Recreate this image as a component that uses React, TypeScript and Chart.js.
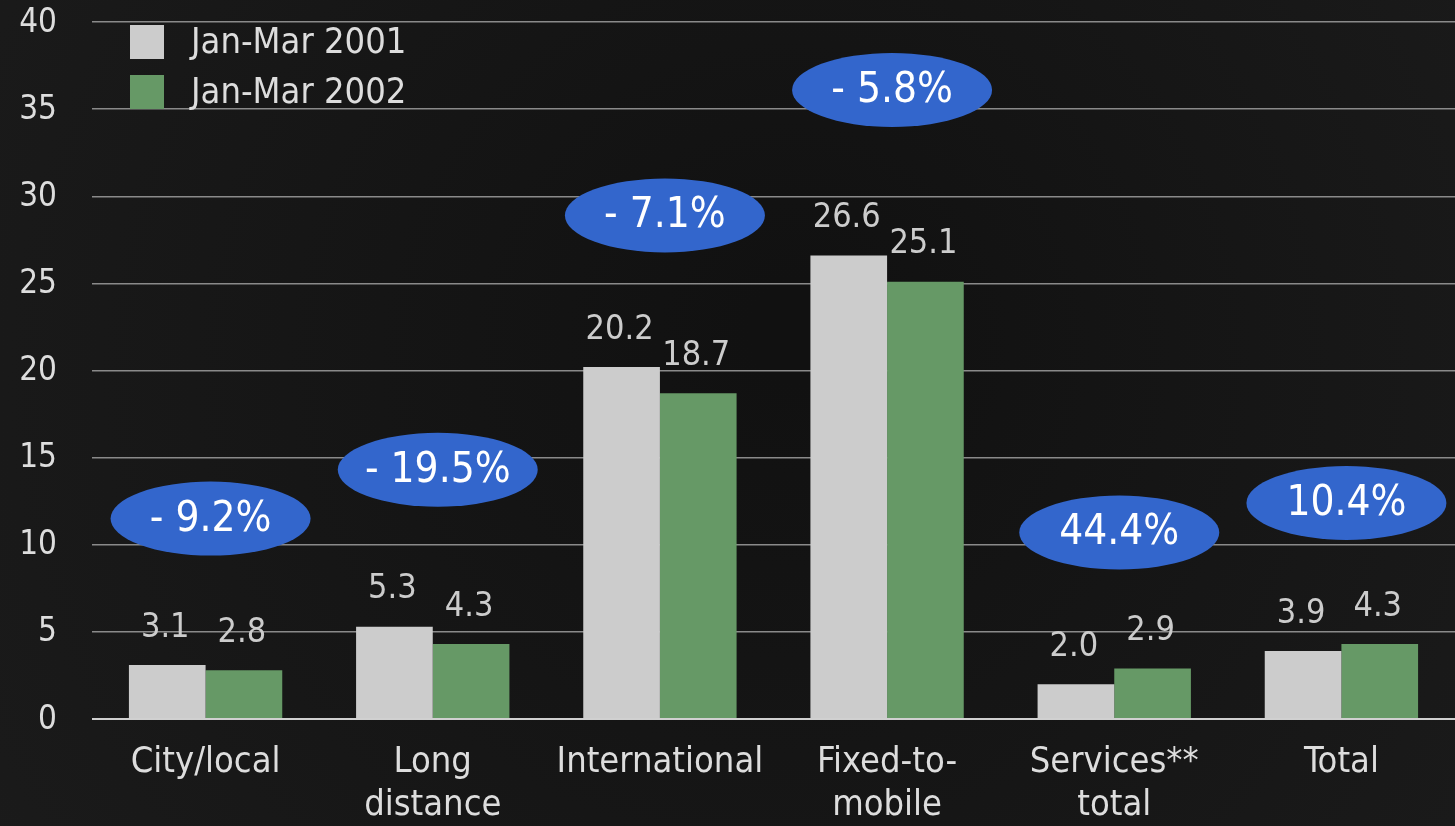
import React, { useEffect, useRef } from "react";
import { Chart, registerables } from "chart.js";

Chart.register(...registerables);

const FONT = "'Liberation Sans Narrow', 'DejaVu Sans Condensed', 'Roboto', sans-serif";

const categories: string[][] = [
  ["City/local"],
  ["Long", "distance"],
  ["International"],
  ["Fixed-to-", "mobile"],
  ["Services**", "total"],
  ["Total"],
];
const seriesNames = ["Jan-Mar 2001", "Jan-Mar 2002"];
const series2001 = [3.1, 5.3, 20.2, 26.6, 2.0, 3.9];
const series2002 = [2.8, 4.3, 18.7, 25.1, 2.9, 4.3];
const changeLabels = ["- 9.2%", "- 19.5%", "- 7.1%", "- 5.8%", "44.4%", "10.4%"];
const changeLevels = [11.5, 14.3, 28.9, 36.1, 10.7, 12.4];
const yMin = 0;
const yMax = 40;
const yStep = 5;

const COLORS = ["#cccccc", "#669966"];

const bgPlugin = {
  id: "bg",
  beforeDraw(chart: any) {
    const { ctx, width, height } = chart;
    ctx.save();
    const g = ctx.createRadialGradient(width * 0.55, height * 0.4, 50, width * 0.5, height * 0.5, width * 0.75);
    g.addColorStop(0, "#111111");
    g.addColorStop(1, "#1d1d1d");
    ctx.fillStyle = g;
    ctx.fillRect(0, 0, width, height);
    ctx.restore();
  },
};

const overlayPlugin = {
  id: "overlay",
  afterDatasetsDraw(chart: any) {
    const { ctx, chartArea } = chart;
    const xScale = chart.scales.x;
    const yScale = chart.scales.y;
    ctx.save();
    // y tick labels
    ctx.font = `33px ${FONT}`;
    ctx.fillStyle = "#dddddd";
    ctx.textAlign = "right";
    ctx.textBaseline = "middle";
    yScale.ticks.forEach((t: any) => {
      ctx.fillText(String(t.value), chartArea.left - 35, yScale.getPixelForValue(t.value) + 1);
    });
    // value labels
    ctx.font = `34px ${FONT}`;
    ctx.fillStyle = "#cccccc";
    ctx.textAlign = "center";
    chart.data.datasets.forEach((ds: any, di: number) => {
      const meta = chart.getDatasetMeta(di);
      meta.data.forEach((el: any, i: number) => {
        ctx.fillText(Number(ds.data[i]).toFixed(1), el.x - 2, el.y - 37);
      });
    });
    // change ellipses
    changeLabels.forEach((lab, i) => {
      const cx = xScale.getPixelForValue(i) + 5;
      const cy = yScale.getPixelForValue(changeLevels[i]);
      ctx.beginPath();
      ctx.ellipse(cx, cy, 100, 37, 0, 0, Math.PI * 2);
      ctx.fillStyle = "#3366cc";
      ctx.fill();
      ctx.fillStyle = "#ffffff";
      ctx.font = `42px ${FONT}`;
      ctx.fillText(lab, cx, cy + 1);
    });
    // legend
    seriesNames.forEach((name, i) => {
      const x = chartArea.left + 38;
      const y = chartArea.top + 3 + i * 50;
      ctx.fillStyle = COLORS[i];
      ctx.fillRect(x, y, 34, 34);
      ctx.fillStyle = "#dddddd";
      ctx.font = `36px ${FONT}`;
      ctx.textAlign = "left";
      ctx.fillText(name, x + 61, y + 19);
    });
    ctx.restore();
  },
};

export default function App() {
  const ref = useRef<HTMLCanvasElement | null>(null);
  useEffect(() => {
    if (!ref.current) return;
    const chart = new Chart(ref.current, {
      type: "bar",
      data: {
        labels: categories,
        datasets: [
          { label: seriesNames[0], data: series2001, backgroundColor: COLORS[0], barPercentage: 1, categoryPercentage: 0.675 },
          { label: seriesNames[1], data: series2002, backgroundColor: COLORS[1], barPercentage: 1, categoryPercentage: 0.675 },
        ],
      },
      options: {
        animation: false,
        responsive: true,
        maintainAspectRatio: false,
        layout: { padding: { left: 16, right: 0, top: 22, bottom: 0 } },
        plugins: { legend: { display: false }, tooltip: { enabled: false } },
        scales: {
          x: {
            grid: { display: false, drawTicks: false },
            border: { display: false },
            ticks: {
              color: "#dddddd",
              font: { family: FONT, size: 36, lineHeight: 1.17 },
              padding: 23,
              maxRotation: 0,
              autoSkip: false,
            },
            afterFit: (axis: any) => {
              axis.height = 107;
            },
          },
          y: {
            min: yMin,
            max: yMax,
            ticks: { stepSize: yStep, display: false },
            border: { display: false },
            afterFit: (axis: any) => {
              axis.width = 76;
            },
            grid: {
              drawTicks: false,
              color: (c: any) => (c.tick && c.tick.value === 0 ? "#d0d0d0" : "#8a8a8a"),
              lineWidth: (c: any) => (c.tick && c.tick.value === 0 ? 2 : 1.5),
            },
          },
        },
      },
      plugins: [bgPlugin, overlayPlugin],
    });
    return () => chart.destroy();
  }, []);
  return (
    <div style={{ position: "fixed", left: 0, top: 0, width: 1455, height: 826, background: "#151515" }}>
      <canvas ref={ref} />
    </div>
  );
}
